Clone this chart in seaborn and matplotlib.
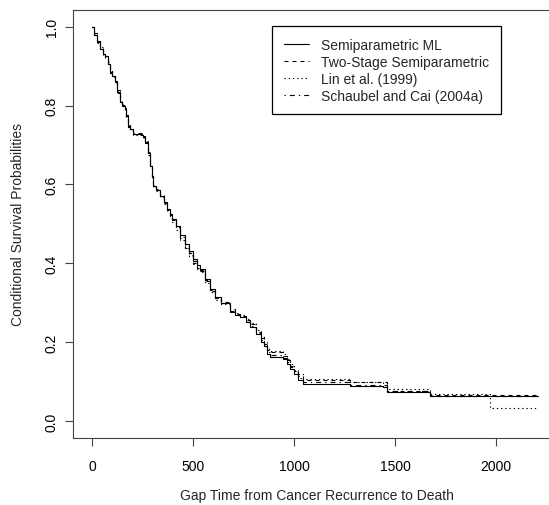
import matplotlib
matplotlib.use("Agg")
import matplotlib.pyplot as plt
import seaborn as sns
import pandas as pd

# ---- data ----
t_head = [0, 10, 24, 40, 55, 64, 78, 89, 100, 114, 126, 139, 150, 163, 170, 178, 190, 203, 248, 255,
          262, 275, 287, 295, 302, 318, 337, 355, 371, 385, 396, 415, 436, 460, 480, 500, 520, 535, 560, 584,
          610, 640, 683, 710, 733, 760, 782, 810, 835, 850, 866, 881, 946, 965, 980, 1000, 1020]

s_ml_head = [1.0, 0.98, 0.962, 0.945, 0.93, 0.926, 0.905, 0.886, 0.875, 0.86, 0.835, 0.81, 0.80, 0.792,
             0.775, 0.749, 0.74, 0.728, 0.726, 0.72, 0.708, 0.68, 0.647, 0.62, 0.596, 0.585, 0.571, 0.555,
             0.538, 0.525, 0.513, 0.495, 0.472, 0.45, 0.43, 0.41, 0.395, 0.386, 0.36, 0.335, 0.315, 0.30,
             0.277, 0.27, 0.264, 0.25, 0.239, 0.22, 0.20, 0.19, 0.17, 0.162, 0.157, 0.145, 0.132, 0.12, 0.105]
t_ml_tail = [1045, 1277, 1441, 1460, 1673, 2208]
s_ml_tail = [0.094, 0.089, 0.086, 0.074, 0.063, 0.063]

s_two_head = [1.0, 0.985, 0.965, 0.95, 0.935, 0.922, 0.91, 0.89, 0.878, 0.865, 0.84, 0.815, 0.805, 0.79,
              0.77, 0.752, 0.742, 0.73, 0.727, 0.722, 0.705, 0.675, 0.645, 0.618, 0.598, 0.588, 0.574, 0.552,
              0.535, 0.522, 0.51, 0.49, 0.465, 0.44, 0.42, 0.40, 0.388, 0.38, 0.355, 0.33, 0.312, 0.302,
              0.283, 0.272, 0.266, 0.255, 0.245, 0.225, 0.21, 0.195, 0.18, 0.175, 0.165, 0.155, 0.14, 0.128, 0.115]
t_two_tail = [1045, 1277, 1460, 1673, 2208]
s_two_tail = [0.105, 0.099, 0.076, 0.065, 0.065]

s_lin_head = [1.0, 0.982, 0.96, 0.948, 0.932, 0.924, 0.907, 0.888, 0.872, 0.858, 0.838, 0.812, 0.798, 0.788,
              0.772, 0.75, 0.738, 0.726, 0.724, 0.718, 0.71, 0.682, 0.65, 0.622, 0.594, 0.583, 0.568, 0.55,
              0.532, 0.52, 0.505, 0.485, 0.46, 0.438, 0.418, 0.398, 0.385, 0.378, 0.35, 0.328, 0.308, 0.298,
              0.28, 0.275, 0.268, 0.258, 0.248, 0.23, 0.215, 0.2, 0.182, 0.178, 0.17, 0.158, 0.145, 0.13, 0.118]
t_lin_tail = [1045, 1277, 1441, 1460, 1673, 1970, 2198]
s_lin_tail = [0.107, 0.099, 0.09, 0.081, 0.069, 0.033, 0.033]

s_sc_head = [1.0, 0.978, 0.963, 0.943, 0.928, 0.927, 0.903, 0.884, 0.874, 0.862, 0.832, 0.808, 0.802, 0.794,
             0.776, 0.747, 0.739, 0.729, 0.725, 0.719, 0.707, 0.678, 0.648, 0.621, 0.597, 0.586, 0.572, 0.553,
             0.536, 0.523, 0.511, 0.492, 0.468, 0.445, 0.425, 0.405, 0.39, 0.383, 0.358, 0.332, 0.313, 0.3,
             0.279, 0.27, 0.265, 0.252, 0.242, 0.222, 0.205, 0.193, 0.175, 0.168, 0.16, 0.15, 0.136, 0.124, 0.11]
t_sc_tail = [1045, 1277, 1460, 1673, 2208]
s_sc_tail = [0.098, 0.092, 0.076, 0.064, 0.064]

labels = ["Semiparametric ML", "Two-Stage Semiparametric", "Lin et al. (1999)", "Schaubel and Cai (2004a)"]
x_ticks = [0, 500, 1000, 1500, 2000]
y_ticks = [0.0, 0.2, 0.4, 0.6, 0.8, 1.0]
x_label = "Gap Time from Cancer Recurrence to Death"
y_label = "Conditional Survival Probabilities"

curves = [
    (t_head + t_ml_tail, s_ml_head + s_ml_tail),
    (t_head + t_two_tail, s_two_head + s_two_tail),
    (t_head + t_lin_tail, s_lin_head + s_lin_tail),
    (t_head + t_sc_tail, s_sc_head + s_sc_tail),
]

# ---- style ----
sns.set_style("white")
plt.rcParams["font.family"] = ["Liberation Sans", "DejaVu Sans"]
plt.rcParams["font.size"] = 10

lw = 0.8
styles = ["-", (0, (3.6, 3.6)), (0, (1.2, 2.6)), (0, (1.2, 3.6, 4.5, 3.6))]

fig = plt.figure(figsize=(5.49, 5.06), dpi=100)
ax = fig.add_axes([73 / 549, (506 - 438.5) / 506, (560 - 73) / 549, 428 / 506])

for (t, s), lab, ls in zip(curves, labels, styles):
    df = pd.DataFrame({"t": t, "s": s})
    sns.lineplot(data=df, x="t", y="s", ax=ax, color="black", linewidth=lw, linestyle=ls,
                 drawstyle="steps-post", estimator=None, sort=False, label=lab)

ax.set_xlim(-94, 2317)
ax.set_ylim(-0.042, 1.044)
ax.set_xticks(x_ticks)
ax.set_yticks(y_ticks)
ax.set_xticklabels([str(v) for v in x_ticks])
ax.set_yticklabels([f"{v:.1f}" for v in y_ticks], rotation=90, va="center")
ax.tick_params(axis="both", direction="out", length=5.8, width=0.8, color="#444444",
               labelsize=10, labelcolor="black", bottom=True, left=True)
ax.tick_params(axis="x", pad=10)
ax.tick_params(axis="y", pad=4.5)
for sp in ax.spines.values():
    sp.set_color("#444444")
    sp.set_linewidth(0.8)
ax.set_xlabel(x_label, fontsize=10, va="center")
ax.set_ylabel(y_label, fontsize=10, va="center")
ax.xaxis.set_label_coords(0.5, (438.5 - 496) / 428)
ax.yaxis.set_label_coords((18 - 73) / 487, 0.5)

leg = ax.legend(loc="upper left", bbox_to_anchor=((272 - 73) / 487, 1 - (27 - 10.5) / 428),
                borderaxespad=0, frameon=True, fancybox=False, framealpha=1, edgecolor="black",
                fontsize=10, handlelength=1.8, handletextpad=0.86, labelspacing=0.21,
                borderpad=0.85)
leg.get_frame().set_linewidth(0.9)

fig.savefig("out.png", dpi=100)
